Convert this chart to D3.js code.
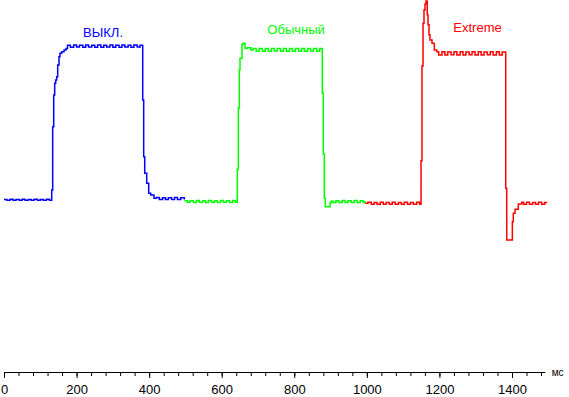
<!DOCTYPE html>
<html>
<head>
<meta charset="utf-8">
<script src="https://cdn.jsdelivr.net/npm/d3@7"></script>
<style>
  body { margin: 0; background: #fff; }
  svg { display: block; }
</style>
</head>
<body>
<svg id="chart"></svg>
<script>
// response curves, [time ms, brightness % of step]
const offData = [
  [0,0.4],[8,-0.2],[17,0.5],[25,-0.1],[33,0.4],[42,-0.2],[50,0.5],[58,-0.1],[67,0.4],[75,-0.2],[83,0.5],[92,-0.1],[100,0.4],[108,-0.2],[117,0.5],[125,-0.1],
  [131.5,6.5],[134.2,47.9],[137,68.6],[139.7,76.3],[142.5,78.4],[145.2,80.6],[148,88.2],[151.6,93.7],[154.3,95.9],[159,96.9],[165.4,98],[170.9,99.1],
  [175,101.2],[183,99.9],[192,101.3],[200,100],[208,101.2],[217,99.8],[225,101.3],[233,100],[242,101.2],[250,99.9],[258,101.3],[267,99.9],[275,101.2],[283,100],
  [292,101.3],[300,99.9],[308,101.2],[317,99.8],[325,101.3],[333,100],[342,101.2],[350,99.9],[358,101.3],[367,100],[375,101.2],
  [382.3,65.4],[385,28.3],[387.8,17.5],[393.3,10.9],[398.8,4.4],[404.3,3.3],[413.4,1.1],
  [420,1.6],[428,0.4],[437,1.5],[445,0.3],[453,1.5],[462,0.4],[470,1.6],[478,0.3],[487,1.5],[497,0.4]
]

const normalData = [
  [497,-0.5],[505,-1.5],[513,-0.5],[522,-1.6],[530,-0.4],[538,-1.5],[547,-0.5],[555,-1.6],[563,-0.4],[572,-1.5],[580,-0.5],[588,-1.6],[597,-0.4],[605,-1.5],[613,-0.5],[622,-1.6],[630,-0.4],[638,-1.5],
  [643,20],[645.8,60],[648.6,85],[650.4,92.6],[655.9,101.7],[658.6,102.4],[664.2,99.1],[670.5,99.5],[680.7,98],
  [687,99.1],[695,97.3],[703,99],[712,97.2],[720,99.1],[728,97.3],[737,99],[745,97.4],[753,99.1],[762,97.2],[770,99],[778,97.3],
  [787,99.1],[795,97.3],[803,99],[812,97.2],[820,99.1],[828,97.3],[837,99],[845,97.4],[853,99.1],[862,97.2],[870,99],
  [877.2,70],[880,30],[882.8,1.1],[885.5,-4.4],[898.5,-2.2],[901.3,-0.8],
  [907,-1.7],[915,-0.5],[923,-1.6],[932,-0.4],[940,-1.7],[948,-0.5],[957,-1.6],[965,-0.4],[973,-1.7],[982,-0.5],[990,-1.6],[995,-0.5]
]

const extremeData = [
  [995,-2.2],[1003,-1.5],[1012,-2.8],[1020,-1.6],[1028,-2.7],[1037,-1.5],[1045,-2.8],[1053,-1.6],[1062,-2.7],[1070,-1.5],
  [1078,-2.8],[1087,-1.6],[1095,-2.7],[1103,-1.5],[1112,-2.8],[1120,-1.6],[1128,-2.7],[1137,-1.5],[1145,-2.8],
  [1149.3,25.7],[1152,87.6],[1154.8,115.5],[1157.5,124.2],[1160.3,128.1],[1163,130.1],[1166.5,121],[1168.5,114.6],[1171.3,108],[1174,104.6],[1179.6,102.5],[1186,98],[1192.5,96.9],
  [1198,94.8],[1207,96.9],[1215,94.8],[1223,96.8],[1232,94.9],[1240,96.9],[1248,94.8],[1257,96.9],[1265,94.8],[1273,96.8],[1282,94.9],
  [1290,96.9],[1298,94.8],[1307,96.9],[1315,94.8],[1323,96.8],[1332,94.9],[1340,96.9],[1348,94.8],[1357,96.9],[1365,94.8],[1373,96.8],
  [1382.7,7.6],[1385.5,-26.1],[1401,-14.2],[1403.6,-8.7],[1408.4,-6.1],[1417.5,-2.6],[1426.8,-1.5],
  [1432,-2.7],[1440,-1.5],[1448,-2.8],[1457,-1.6],[1465,-2.7],[1473,-1.5],[1482,-2.8],[1490,-1.6],[1495,-2.2]
]

const seriesNames = ["ВЫКЛ.", "Обычный", "Extreme"]
const seriesColors = ["#0000ff", "#00ff00", "#ff0000"]
const majorTicks = [0, 200, 400, 600, 800, 1000, 1200, 1400]
const unitLabel = "мс"

const width = 569
const height = 397

const svg = d3.select("svg#chart")
  .attr("viewBox", `0 0 ${width} ${height}`)
  .attr("width", width)
  .attr("height", height)

const x = d3.scaleLinear()
  .domain([0, 1490])
  .range([4, 4 + 1490 * 0.36285])

const y = d3.scaleLinear()
  .domain([0, 100])
  .range([200, 47])

const line = d3.line()
  .x(d => x(d[0]))
  .y(d => y(d[1]))
  .curve(d3.curveStepAfter)

const series = [offData, normalData, extremeData]

svg.append("g")
  .selectAll("path")
  .data(series)
  .join("path")
    .attr("d", line)
    .attr("fill", "none")
    .attr("stroke", (d, i) => seriesColors[i])
    .attr("stroke-width", 1.5)

// label anchors in data units (time, level)
const labelAt = [[273, 106.5], [805, 108.5], [1305, 109.6]]

svg.append("g")
  .selectAll("text")
  .data(seriesNames)
  .join("text")
    .attr("x", (d, i) => x(labelAt[i][0]))
    .attr("y", (d, i) => y(labelAt[i][1]))
    .attr("text-anchor", "middle")
    .attr("fill", (d, i) => seriesColors[i])
    .style("font", "13px 'Liberation Sans', Arial, sans-serif")
    .text(d => d)

const axisY = 372

svg.append("g")
  .attr("transform", `translate(0,${axisY})`)
  .call(d3.axisBottom(x).tickValues(d3.range(0, 1481, 40)).tickFormat("").tickSize(4).tickSizeOuter(0))

const major = svg.append("g")
  .attr("transform", `translate(0,${axisY})`)
  .call(d3.axisBottom(x).tickValues(majorTicks).tickFormat(d => String(d)).tickSize(6).tickSizeOuter(0).tickPadding(7))

major.selectAll("text")
  .style("font", "13px 'Liberation Sans Narrow', 'Arial Narrow', 'Liberation Sans', Arial, sans-serif")
  .attr("fill", "#000")

svg.selectAll(".domain, .tick line").attr("stroke", "#000")

svg.append("text")
  .attr("x", x(1490) + 7)
  .attr("y", axisY + 0.5)
  .attr("dy", "0.35em")
  .style("font", "10px 'Liberation Sans', Arial, sans-serif")
  .text(unitLabel)
</script>
</body>
</html>
